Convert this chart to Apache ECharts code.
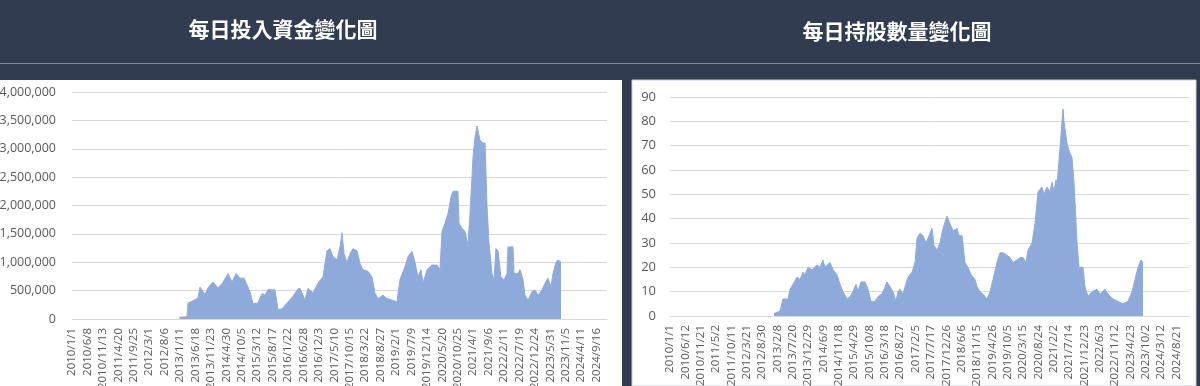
<!DOCTYPE html>
<html>
<head>
<meta charset="utf-8">
<script src="https://cdn.jsdelivr.net/npm/echarts@6/dist/echarts.min.js"></script>
<style>
html,body{margin:0;padding:0;background:#313c51;}
#c{width:1200px;height:386px;}
</style>
</head>
<body>
<div id="c"></div>
<script>
// ---- titles ----
const title1 = '每日投入資金變化圖';
const title2 = '每日持股數量變化圖';

// ---- tick labels (category axis labels of the original) ----
const xLabels1 = ['2010/1/1','2010/6/8','2010/11/13','2011/4/20','2011/9/25','2012/3/1','2012/8/6','2013/1/11','2013/6/18','2013/11/23','2014/4/30','2014/10/5','2015/3/12','2015/8/17','2016/1/22','2016/6/28','2016/12/3','2017/5/10','2017/10/15','2018/3/22','2018/8/27','2019/2/1','2019/7/9','2019/12/14','2020/5/20','2020/10/25','2021/4/1','2021/9/6','2022/2/11','2022/7/19','2022/12/24','2023/5/31','2023/11/5','2024/4/11','2024/9/16'];
const xLabels2 = ['2010/1/1','2010/6/12','2010/11/21','2011/5/2','2011/10/11','2012/3/21','2012/8/30','2013/2/8','2013/7/20','2013/12/29','2014/6/9','2014/11/18','2015/4/29','2015/10/8','2016/3/18','2016/8/27','2017/2/5','2017/7/17','2017/12/26','2018/6/6','2018/11/15','2019/4/26','2019/10/5','2020/3/15','2020/8/24','2021/2/2','2021/7/14','2021/12/23','2022/6/3','2022/11/12','2023/4/23','2023/10/2','2024/3/12','2024/8/21'];
const labelStep1 = 158;   // days between labels
const labelStep2 = 162;
const axisStart = '2010-01-01';
const axisEnd = '2024-12-31';

// ---- series 1: daily invested capital ----
const dates1 = ['2013-01-05','2013-03-24','2013-04-03','2013-05-24','2013-07-14','2013-08-04','2013-09-24','2013-10-25','2013-12-15',
'2014-02-04','2014-03-17','2014-05-18','2014-06-28','2014-08-08','2014-09-17','2014-10-28','2014-11-28','2014-12-29',
'2015-01-29','2015-03-21','2015-05-01','2015-06-01','2015-07-01','2015-09-11','2015-10-12','2015-11-22',
'2016-01-22','2016-03-13','2016-05-03','2016-05-24','2016-07-14','2016-08-14','2016-10-04','2016-11-24',
'2017-01-14','2017-02-24','2017-03-27','2017-04-27','2017-06-07','2017-07-08','2017-07-28','2017-08-18','2017-09-17','2017-10-18','2017-11-18','2017-12-29',
'2018-01-28','2018-02-28','2018-04-20','2018-05-31','2018-07-01','2018-08-01','2018-09-21','2018-11-01','2018-12-22',
'2019-02-11','2019-03-14','2019-05-04','2019-06-04','2019-07-15','2019-08-15','2019-09-14','2019-10-15','2019-11-05','2019-12-16',
'2020-02-05','2020-03-27','2020-04-27','2020-05-17','2020-06-17','2020-07-18','2020-08-17','2020-09-07','2020-10-28','2020-11-07','2020-12-08',
'2021-01-08','2021-02-07','2021-02-28','2021-03-31','2021-04-20','2021-05-11','2021-06-10','2021-07-11','2021-08-01','2021-08-21','2021-09-11','2021-10-11','2021-11-01','2021-11-21','2021-12-12',
'2022-01-11','2022-02-11','2022-03-14','2022-03-24','2022-05-14','2022-05-25','2022-07-04','2022-07-25','2022-08-25','2022-09-14','2022-10-15','2022-11-25','2022-12-26',
'2023-01-25','2023-03-07','2023-04-07','2023-05-08','2023-06-07','2023-06-28','2023-07-29','2023-08-18','2023-09-18'];
const values1 = [30000,40000,280000,320000,370000,560000,430000,550000,650000,
550000,620000,800000,650000,800000,720000,720000,600000,480000,
270000,280000,450000,420000,520000,510000,160000,180000,
300000,400000,530000,540000,335000,540000,460000,630000,
740000,1200000,1240000,1100000,1040000,1270000,1520000,1150000,1000000,1150000,1240000,1200000,
980000,870000,840000,740000,450000,360000,420000,360000,335000,
300000,690000,920000,1100000,1190000,1000000,740000,870000,630000,870000,
950000,950000,870000,1540000,1690000,1860000,2150000,2250000,2250000,1690000,1600000,
1540000,1300000,1860000,2850000,3200000,3400000,3150000,3100000,3100000,2000000,1330000,800000,690000,1240000,1200000,
740000,690000,800000,1270000,1270000,800000,800000,870000,690000,420000,335000,480000,510000,
420000,510000,630000,720000,570000,800000,1000000,1040000,1000000];

// ---- series 2: daily shares held ----
const dates2 = ['2013-01-03','2013-03-07','2013-04-08','2013-05-31','2013-06-21','2013-07-23','2013-09-03','2013-10-04','2013-11-05','2013-11-26','2013-12-28',
'2014-02-08','2014-04-02','2014-05-04','2014-06-04','2014-06-25','2014-08-17','2014-09-18','2014-10-30','2014-12-01',
'2015-01-01','2015-02-13','2015-03-16','2015-04-17','2015-05-19','2015-06-09','2015-07-10','2015-08-22','2015-09-22','2015-10-24','2015-12-05',
'2016-01-06','2016-02-17','2016-03-20','2016-04-10','2016-05-12','2016-06-12','2016-07-14','2016-08-04','2016-08-25','2016-09-26','2016-10-17','2016-11-18','2016-12-30',
'2017-01-31','2017-02-21','2017-03-24','2017-04-25','2017-05-27','2017-06-17','2017-07-29','2017-08-19','2017-09-20','2017-10-21','2017-11-22',
'2018-01-03','2018-02-04','2018-03-08','2018-04-19','2018-05-10','2018-06-11','2018-07-12','2018-08-13','2018-09-14','2018-10-26','2018-11-16','2018-12-18',
'2019-01-18','2019-03-02','2019-04-02','2019-05-04','2019-06-15','2019-07-17','2019-08-17','2019-09-29','2019-10-30','2019-12-01',
'2020-01-12','2020-02-13','2020-03-16','2020-04-16','2020-05-07','2020-06-19','2020-07-20','2020-08-21','2020-10-02','2020-10-23','2020-11-24','2020-12-26',
'2021-01-16','2021-02-06','2021-02-27','2021-03-10','2021-04-10','2021-05-12','2021-05-22','2021-06-23','2021-07-14','2021-08-15','2021-09-05','2021-10-07','2021-10-28','2021-12-09','2021-12-30',
'2022-01-31','2022-03-14','2022-05-06','2022-06-07','2022-07-29','2022-08-30','2022-10-22','2022-12-14',
'2023-02-04','2023-03-29','2023-05-10','2023-06-11','2023-07-13','2023-08-13','2023-09-03'];
const values2 = [1,2,7,7,11,13,16,15,18,17,20,
19,21,20,23,20,22,19,17,13,
10,7,8,10,13,10,14,14,11,6,6,
8,9,12,14,12,10,6,10,11,9,12,16,18,
22,32,34,33,30,32,36,29,27,30,36,
41,38,35,36,33,33,22,20,17,15,12,10,
9,7,10,15,22,26,26,25,24,22,
23,24,24,22,27,30,38,51,53,50,53,51,
55,51,56,54,69,85,80,71,68,65,55,30,20,20,12,
8,10,11,9,11,9,7,6,
5,6,10,15,20,23,22];

// ---- helpers ----
function dayIndex(s){
  const p = s.split('-').map(Number), b = axisStart.split('-').map(Number);
  return Math.round((Date.UTC(p[0],p[1]-1,p[2]) - Date.UTC(b[0],b[1]-1,b[2]))/86400000);
}
const axisMax = dayIndex(axisEnd) + 1;
const pts1 = dates1.map((d,i)=>[dayIndex(d), values1[i]]);
const pts2 = dates2.map((d,i)=>[dayIndex(d), values2[i]]);

const fillColor = '#8eaadb';
const txtColor = '#595959';
const gridColor = '#d9d9d9';
const FONT = '"Open Sans","Noto Sans",sans-serif';

function xAxisFor(gi, step, labels){
  return {
    type:'value', gridIndex:gi, min:0, max:axisMax, interval:step,
    axisLine:{show:true, lineStyle:{color:gridColor}},
    axisTick:{show:false}, splitLine:{show:false},
    axisLabel:{
      rotate:90, color:txtColor, fontSize:11.5, fontFamily:FONT, margin:9,
      showMaxLabel:false,
      formatter:function(v){
        if (v % step !== 0) return '';
        const k = Math.round(v/step);
        return labels[k] !== undefined ? labels[k] : '';
      }
    }
  };
}

const chart = echarts.init(document.getElementById('c'), null, {renderer:'canvas'});
chart.setOption({
  animation:false,
  backgroundColor:'#313c51',
  graphic:[
    {type:'rect', z:-10, shape:{x:0,y:63,width:1200,height:1}, style:{fill:'#7e899c'}},
    {type:'rect', z:-10, shape:{x:0,y:80,width:622,height:306}, style:{fill:'#ffffff'}},
    {type:'rect', z:-10, shape:{x:632,y:80,width:564,height:306}, style:{fill:'#ffffff', stroke:'#c9cdd4', lineWidth:1}}
  ],
  title:[
    {text:title1, left:278, top:14, textAlign:'center', textStyle:{color:'#ffffff', fontSize:21, fontWeight:'bold', fontFamily:'"Noto Sans CJK TC"'}},
    {text:title2, left:892, top:16, textAlign:'center', textStyle:{color:'#ffffff', fontSize:21, fontWeight:'bold', fontFamily:'"Noto Sans CJK TC"'}}
  ],
  grid:[
    {left:72, right:593, top:92, bottom:67, containLabel:false, outerBoundsMode:'none'},
    {left:670, right:11, top:97, bottom:70, containLabel:false, outerBoundsMode:'none'}
  ],
  xAxis:[xAxisFor(0,labelStep1,xLabels1), xAxisFor(1,labelStep2,xLabels2)],
  yAxis:[
    {type:'value', gridIndex:0, min:0, max:4000000, interval:500000,
     axisLine:{show:false}, axisTick:{show:false},
     splitLine:{lineStyle:{color:gridColor}},
     axisLabel:{color:txtColor, fontSize:12.5, fontFamily:FONT, margin:16,
       formatter:function(v){return v.toLocaleString('en-US');}}},
    {type:'value', gridIndex:1, min:0, max:90, interval:10,
     axisLine:{show:false}, axisTick:{show:false},
     splitLine:{lineStyle:{color:gridColor}},
     axisLabel:{color:txtColor, fontSize:13, fontFamily:FONT, margin:14}}
  ],
  series:[
    {type:'line', xAxisIndex:0, yAxisIndex:0, data:pts1, symbol:'none',
     lineStyle:{color:fillColor, width:1}, areaStyle:{color:fillColor, opacity:1}},
    {type:'line', xAxisIndex:1, yAxisIndex:1, data:pts2, symbol:'none',
     lineStyle:{color:fillColor, width:1}, areaStyle:{color:fillColor, opacity:1}}
  ]
});
</script>
</body>
</html>
